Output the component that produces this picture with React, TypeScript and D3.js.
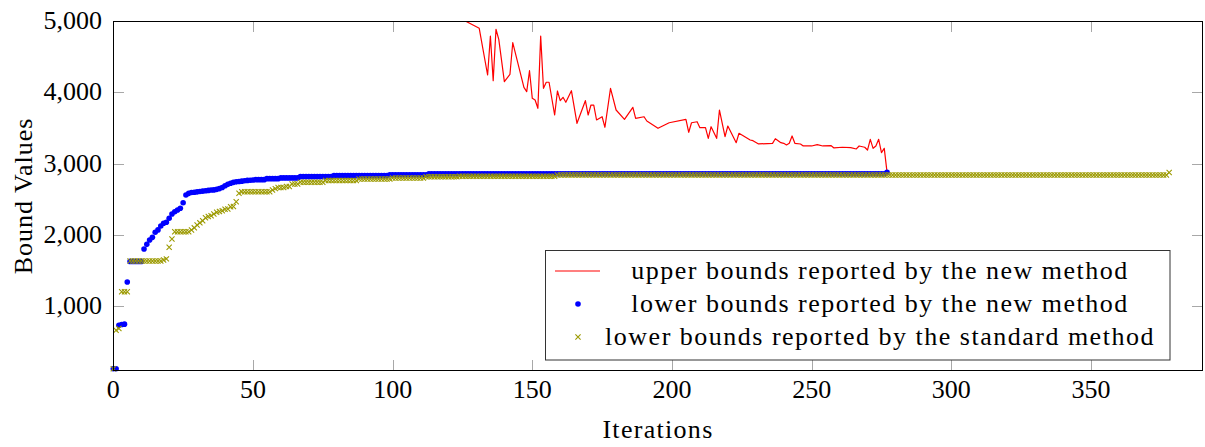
import React, { useEffect, useRef } from 'react';
import * as d3 from 'd3';

const xTicks = [0, 50, 100, 150, 200, 250, 300, 350];
const yTicks = [1000, 2000, 3000, 4000, 5000];

// upper bounds of the new method, [iteration, value] (above 5000 is clipped)
const upperNew: [number, number][] = [
  [125, 5080], [126, 5000], [131, 4898], [134, 4243], [135, 4790], [136, 4163], [137, 4884],
  [138, 4743], [140, 4149], [142, 4253], [143, 4696], [147, 4070], [148, 4009], [149, 4303],
  [150, 3916], [151, 3892], [152, 3776], [153, 4790], [154, 4056], [155, 4141], [156, 4141],
  [158, 3682], [159, 4019], [160, 3883], [161, 3930], [162, 3860], [164, 4023], [166, 3566],
  [169, 3883], [170, 3682], [171, 3822], [172, 3822], [173, 3612], [175, 3658], [176, 3510],
  [178, 4056], [180, 3752], [183, 3622], [186, 3790], [187, 3636], [190, 3658], [191, 3598],
  [195, 3496], [199, 3574], [205, 3622], [206, 3440], [207, 3574], [209, 3588], [210, 3504],
  [212, 3504], [213, 3355], [214, 3518], [216, 3355], [217, 3752], [219, 3378], [220, 3528],
  [223, 3294], [224, 3426], [228, 3332], [229, 3322], [231, 3276], [236, 3285], [237, 3350],
  [239, 3294], [240, 3285], [241, 3262], [242, 3285], [243, 3388], [244, 3285], [246, 3276],
  [247, 3248], [250, 3248], [252, 3266], [254, 3248], [257, 3252], [258, 3220], [261, 3230],
  [264, 3224], [266, 3206], [267, 3248], [269, 3230], [270, 3191], [271, 3341], [272, 3215],
  [273, 3248], [274, 3341], [275, 3154], [276, 3215], [277, 2878]
];

// lower bounds of the new method, runs of [count, value] from iteration 0
const lowerNewRuns: [number, number][] = [
  [2, 125], [1, 735], [1, 745], [1, 750], [1, 1340], [5, 1630],
  [1, 1803], [1, 1869], [1, 1929], [1, 1967], [1, 2038], [1, 2071], [1, 2126], [1, 2164],
  [1, 2178], [1, 2234], [1, 2294], [1, 2326], [1, 2350], [1, 2374], [1, 2453], [1, 2560],
  [1, 2584], [1, 2595], [1, 2600], [1, 2605], [1, 2610], [1, 2615], [1, 2620], [1, 2625],
  [1, 2630], [1, 2632], [1, 2640], [1, 2650], [1, 2665], [1, 2690], [1, 2710], [1, 2725],
  [1, 2738], [1, 2745], [1, 2750], [1, 2755], [1, 2760], [1, 2765], [1, 2768], [1, 2771],
  [4, 2776], [5, 2790], [7, 2800], [12, 2818], [20, 2832], [14, 2845], [164, 2858], [1, 2878]
];

// lower bounds of the standard method, runs of [count, value] from iteration 0
const lowerStdRuns: [number, number][] = [
  [1, 125], [1, 665], [1, 690], [3, 1205], [12, 1635], [1, 1650], [1, 1665], [1, 1827],
  [1, 1944], [6, 2046], [1, 2070], [1, 2100], [1, 2140], [1, 2170], [1, 2200], [1, 2242],
  [1, 2260], [1, 2270], [1, 2295], [1, 2318], [1, 2330], [1, 2340], [1, 2360], [1, 2365],
  [1, 2396], [1, 2400], [1, 2466], [1, 2584], [11, 2607], [1, 2630], [1, 2650], [3, 2665],
  [2, 2680], [3, 2715], [9, 2740], [12, 2765], [12, 2785], [12, 2800], [12, 2815],
  [35, 2825], [219, 2841], [1, 2875]
];

const legendLabels = [
  'upper bounds reported by the new method',
  'lower bounds reported by the new method',
  'lower bounds reported by the standard method'
];

const expandRuns = (runs: [number, number][]) => {
  const out: [number, number][] = [];
  runs.forEach(([n, v]) => {
    for (let i = 0; i < n; i++) out.push([out.length, v]);
  });
  return out;
};

const FONT = 'Liberation Serif, Times New Roman, serif';
const OLIVE = '#9c9a00';
const xMark = 'M-2.6,-2.6L2.6,2.6M-2.6,2.6L2.6,-2.6';

const App = () => {
  const ref = useRef<SVGSVGElement>(null);

  useEffect(() => {
    const svg = d3.select(ref.current);
    svg.selectAll('*').remove();

    const left = 113.5, right = 1202.5, top = 21.5, bottom = 370.5;
    const x = d3.scaleLinear().domain([0, 390]).range([113.3, 1202.7]);
    const y = d3.scaleLinear().domain([103, 5000]).range([370.3, 21]);

    svg.append('defs').append('clipPath').attr('id', 'plot-clip')
      .append('rect')
      .attr('x', left).attr('y', top)
      .attr('width', right - left).attr('height', bottom - top);

    // tick marks, inward on all four sides
    const ticks = svg.append('g').attr('stroke', '#a8a8a8').attr('stroke-width', 1);
    xTicks.forEach(t => {
      const px = Math.round(x(t)) + 0.5;
      ticks.append('line').attr('x1', px).attr('x2', px).attr('y1', bottom).attr('y2', bottom - 10.5);
      ticks.append('line').attr('x1', px).attr('x2', px).attr('y1', top).attr('y2', top + 10.5);
    });
    yTicks.forEach(t => {
      const py = Math.round(y(t)) + 0.5;
      ticks.append('line').attr('x1', left).attr('x2', left + 10.5).attr('y1', py).attr('y2', py);
      ticks.append('line').attr('x1', right).attr('x2', right - 10.5).attr('y1', py).attr('y2', py);
    });

    // upper bounds line
    const line = d3.line<[number, number]>().x(d => x(d[0])).y(d => y(d[1]));
    svg.append('path')
      .datum(upperNew)
      .attr('clip-path', 'url(#plot-clip)')
      .attr('d', line)
      .attr('fill', 'none')
      .attr('stroke', '#ff0000')
      .attr('stroke-width', 1.2)
      .attr('stroke-linejoin', 'round');

    // lower bounds, new method
    svg.append('g').selectAll('circle')
      .data(expandRuns(lowerNewRuns))
      .enter().append('circle')
      .attr('cx', d => x(d[0]))
      .attr('cy', d => y(d[1]))
      .attr('r', 2.8)
      .attr('fill', '#0000ff');

    // lower bounds, standard method
    svg.append('g').selectAll('path')
      .data(expandRuns(lowerStdRuns))
      .enter().append('path')
      .attr('transform', d => `translate(${x(d[0])},${y(d[1])})`)
      .attr('d', xMark)
      .attr('fill', 'none')
      .attr('stroke', OLIVE)
      .attr('stroke-width', 1.1);

    // frame
    svg.append('rect')
      .attr('x', left).attr('y', top)
      .attr('width', right - left).attr('height', bottom - top)
      .attr('fill', 'none').attr('stroke', '#000').attr('stroke-width', 1);

    // tick labels
    const fmt = d3.format(',');
    svg.append('g').selectAll('text')
      .data(xTicks)
      .enter().append('text')
      .attr('x', d => x(d))
      .attr('y', 398)
      .attr('text-anchor', 'middle')
      .style('font-family', FONT)
      .style('font-size', '26px')
      .text(d => fmt(d));

    svg.append('g').selectAll('text')
      .data(yTicks)
      .enter().append('text')
      .attr('x', 102)
      .attr('y', d => y(d) + 8)
      .attr('text-anchor', 'end')
      .style('font-family', FONT)
      .style('font-size', '26px')
      .text(d => fmt(d));

    // axis titles
    svg.append('text')
      .attr('x', (left + right) / 2)
      .attr('y', 438)
      .attr('text-anchor', 'middle')
      .style('font-family', FONT)
      .style('font-size', '26px')
      .style('letter-spacing', '1.3px')
      .text('Iterations');

    svg.append('text')
      .attr('transform', `translate(31.5,${(top + bottom) / 2}) rotate(-90)`)
      .attr('text-anchor', 'middle')
      .style('font-family', FONT)
      .style('font-size', '26px')
      .style('letter-spacing', '1px')
      .text('Bound Values');

    // legend
    const legend = svg.append('g');
    legend.append('rect')
      .attr('x', 545.5).attr('y', 250.5)
      .attr('width', 624.5).attr('height', 109.5)
      .attr('fill', '#fff').attr('stroke', '#333').attr('stroke-width', 1);

    const rows = [271, 304, 337];
    legend.append('line')
      .attr('x1', 555).attr('x2', 600).attr('y1', rows[0]).attr('y2', rows[0])
      .attr('stroke', '#ff0000').attr('stroke-width', 1.2);
    legend.append('circle')
      .attr('cx', 578).attr('cy', rows[1]).attr('r', 2.8).attr('fill', '#0000ff');
    legend.append('path')
      .attr('transform', `translate(578,${rows[2]})`)
      .attr('d', xMark).attr('fill', 'none').attr('stroke', OLIVE).attr('stroke-width', 1.1);

    legend.selectAll('text.lbl')
      .data(legendLabels)
      .enter().append('text')
      .attr('class', 'lbl')
      .attr('x', 880)
      .attr('y', (d, i) => rows[i] + 8)
      .attr('text-anchor', 'middle')
      .style('font-family', FONT)
      .style('font-size', '26px')
      .style('letter-spacing', '1.5px')
      .text(d => d);
  }, []);

  return (
    <svg
      ref={ref}
      width={1205}
      height={447}
      style={{ position: 'absolute', left: 0, top: 0, background: '#fff' }}
    />
  );
};

export default App;
